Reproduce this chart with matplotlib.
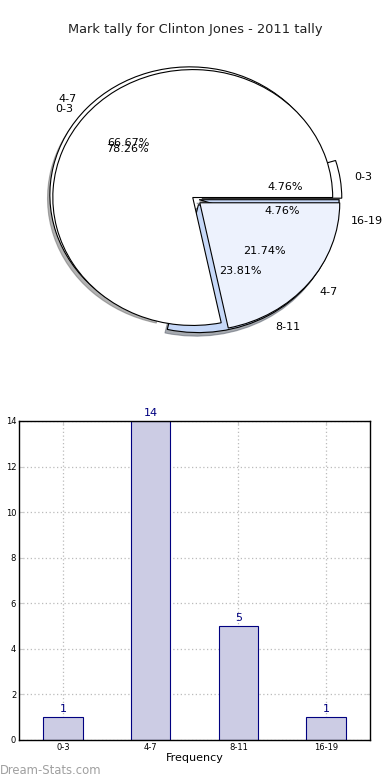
import matplotlib
matplotlib.use("Agg")
import matplotlib.pyplot as plt

# Dados do gráfico
intervalos = ["0-3", "4-7", "8-11", "16-19"]
contagens = [1, 14, 5, 1]

# Segunda pizza sobreposta (como no original)
rotulos2 = ["0-3", "4-7"]
valores2 = [18, 5]

titulo = "Mark tally for Clinton Jones - 2011 tally"

fig = plt.figure(figsize=(3.9, 7.8), dpi=100)
fig.text(0.5, 0.962, titulo, ha="center", va="center", fontsize=9.4, color="#222222")

# Pizza
axPie = fig.add_axes([0.0513, 0.5397, 0.897, 0.410])
axPie.pie(contagens, labels=intervalos, autopct="%.2f%%",
          colors=["white", "white", "#c6d8f8", "#c6d8f8"],
          explode=[0.05, 0.05, 0.05, 0.03],
          shadow={"ox": -0.012, "oy": -0.02, "shade": 0.6},
          wedgeprops={"edgecolor": "black", "linewidth": 0.8},
          textprops={"fontsize": 8})
axPie.pie(valores2, labels=rotulos2, autopct="%.2f%%",
          colors=["white", "#edf2fd"],
          explode=[0.02, 0.045],
          wedgeprops={"edgecolor": "black", "linewidth": 0.8},
          textprops={"fontsize": 8})
axPie.set_aspect("auto")
axPie.set_xlim(-1.25, 1.25)
axPie.set_ylim(-1.25, 1.25)
axPie.axis("off")

# Barras
axBar = fig.add_axes([0.0487, 0.0513, 0.9, 0.409])
posicoes = list(range(len(intervalos)))
axBar.bar(posicoes, contagens, width=0.45, color="#ccccE4", edgecolor="#000080", linewidth=0.8, zorder=2)
for p, v in zip(posicoes, contagens):
    axBar.text(p, v + 0.15, str(v), ha="center", va="bottom", fontsize=8, color="#000080")

axBar.set_xlim(-0.5, 3.5)
axBar.set_ylim(0, 14)
axBar.set_xticks(posicoes)
axBar.set_xticklabels(intervalos)
axBar.set_yticks(range(0, 15, 2))
axBar.tick_params(labelsize=6, direction="in", top=True, right=True, length=3, color="#cccccc", pad=2)
axBar.grid(True, linestyle=(0, (1, 2)), color="#bbbbbb", linewidth=0.9, zorder=0)
axBar.set_xlabel("Frequency", fontsize=8, labelpad=1)
axBar.set_ylabel("Class Interval", fontsize=7, labelpad=10)
for s in axBar.spines.values():
    s.set_linewidth(1.0)

fig.text(0.0, 0.0125, "Dream-Stats.com", ha="left", va="center", fontsize=8.4, color="#a0a0a0")

plt.savefig("out.png", dpi=100)
plt.close()
